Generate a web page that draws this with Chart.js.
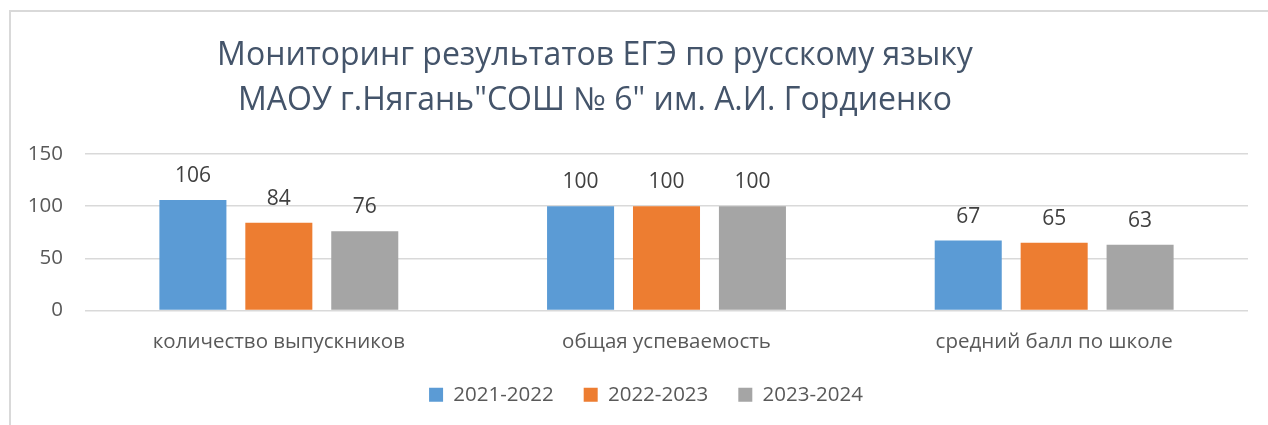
<!DOCTYPE html>
<html>
<head>
<meta charset="utf-8">
<script src="https://cdn.jsdelivr.net/npm/chart.js@4.4.1/dist/chart.umd.min.js"></script>
<style>
    body { margin:0; background:#fff; font-family:"Open Sans", sans-serif; }
    #frame { position:absolute; left:9px; top:10px; width:1300px; height:450px; border:2px solid #d9d9d9; }
    #title { position:absolute; left:0; top:30px; width:1190px; text-align:center; font-size:32px; line-height:45px; color:#44546a; }
    #wrap { position:absolute; left:0; top:0; width:1268px; height:425px; }
</style>
</head>
<body>
<div id="frame"></div>
<div id="wrap"><canvas id="chart"></canvas></div>
<div id="title">Мониторинг результатов ЕГЭ по русскому языку<br>МАОУ г.Нягань"СОШ № 6" им. А.И. Гордиенко</div>
<script>
var categories = ['количество выпускников', 'общая успеваемость', 'средний балл по школе']
var years = ['2021-2022', '2022-2023', '2023-2024']
var values2122 = [106, 100, 67]
var values2223 = [84, 100, 65]
var values2324 = [76, 100, 63]
var yTicks = [0, 50, 100, 150]
var colors = ['#5b9bd5', '#ed7d31', '#a5a5a5']

// подписи значений над столбцами
const valueLabels = {
    id: 'valueLabels',
    afterDatasetsDraw(chart) {
        const ctx = chart.ctx
        ctx.save()
        ctx.font = '21px "Open Sans"'
        ctx.fillStyle = '#404040'
        ctx.textAlign = 'center'
        ctx.textBaseline = 'middle'
        chart.data.datasets.forEach((ds, i) => {
            chart.getDatasetMeta(i).data.forEach((bar, j) => {
                ctx.fillText(ds.data[j], bar.x, bar.y - 24)
            })
        })
        ctx.restore()
    }
}

// легенда в оригинале чуть правее центра
const legendShift = {
    id: 'legendShift',
    afterUpdate(chart) {
        chart.legend.left += 22
        chart.legend.right += 22
    }
}

const chart = document.getElementById('chart')

const config = {
    type: 'bar',
    data: {
        labels: categories,
        datasets: [
            { label: years[0], data: values2122, backgroundColor: colors[0] },
            { label: years[1], data: values2223, backgroundColor: colors[1] },
            { label: years[2], data: values2324, backgroundColor: colors[2] }
        ]
    },
    options: {
        responsive: true,
        maintainAspectRatio: false,
        animation: false,
        categoryPercentage: 0.665,
        barPercentage: 0.78,
        layout: {
            padding: { top: 154, bottom: 10, left: 0, right: 20 }
        },
        plugins: {
            legend: {
                position: 'bottom',
                labels: {
                    boxWidth: 14,
                    boxHeight: 14,
                    padding: 30,
                    color: '#595959',
                    font: { family: 'Open Sans', size: 20.5 }
                }
            },
            tooltip: { enabled: false }
        },
        scales: {
            x: {
                grid: { display: false, drawTicks: false },
                border: { display: false },
                afterFit: (scale) => { scale.height = 44 },
                ticks: {
                    padding: 19,
                    color: '#595959',
                    font: { family: 'Open Sans', size: 20.5 }
                }
            },
            y: {
                min: 0,
                max: 150,
                afterFit: (scale) => { scale.width = 85 },
                afterBuildTicks: (scale) => { scale.ticks = yTicks.map(v => ({ value: v })) },
                border: { display: false },
                grid: { color: '#d9d9d9', lineWidth: 1.5, drawTicks: false },
                ticks: {
                    padding: 22,
                    color: '#595959',
                    font: { family: 'Open Sans', size: 20.5 }
                }
            }
        }
    },
    plugins: [valueLabels, legendShift]
}

var chartvar = new Chart(chart, config)
</script>
</body>
</html>
